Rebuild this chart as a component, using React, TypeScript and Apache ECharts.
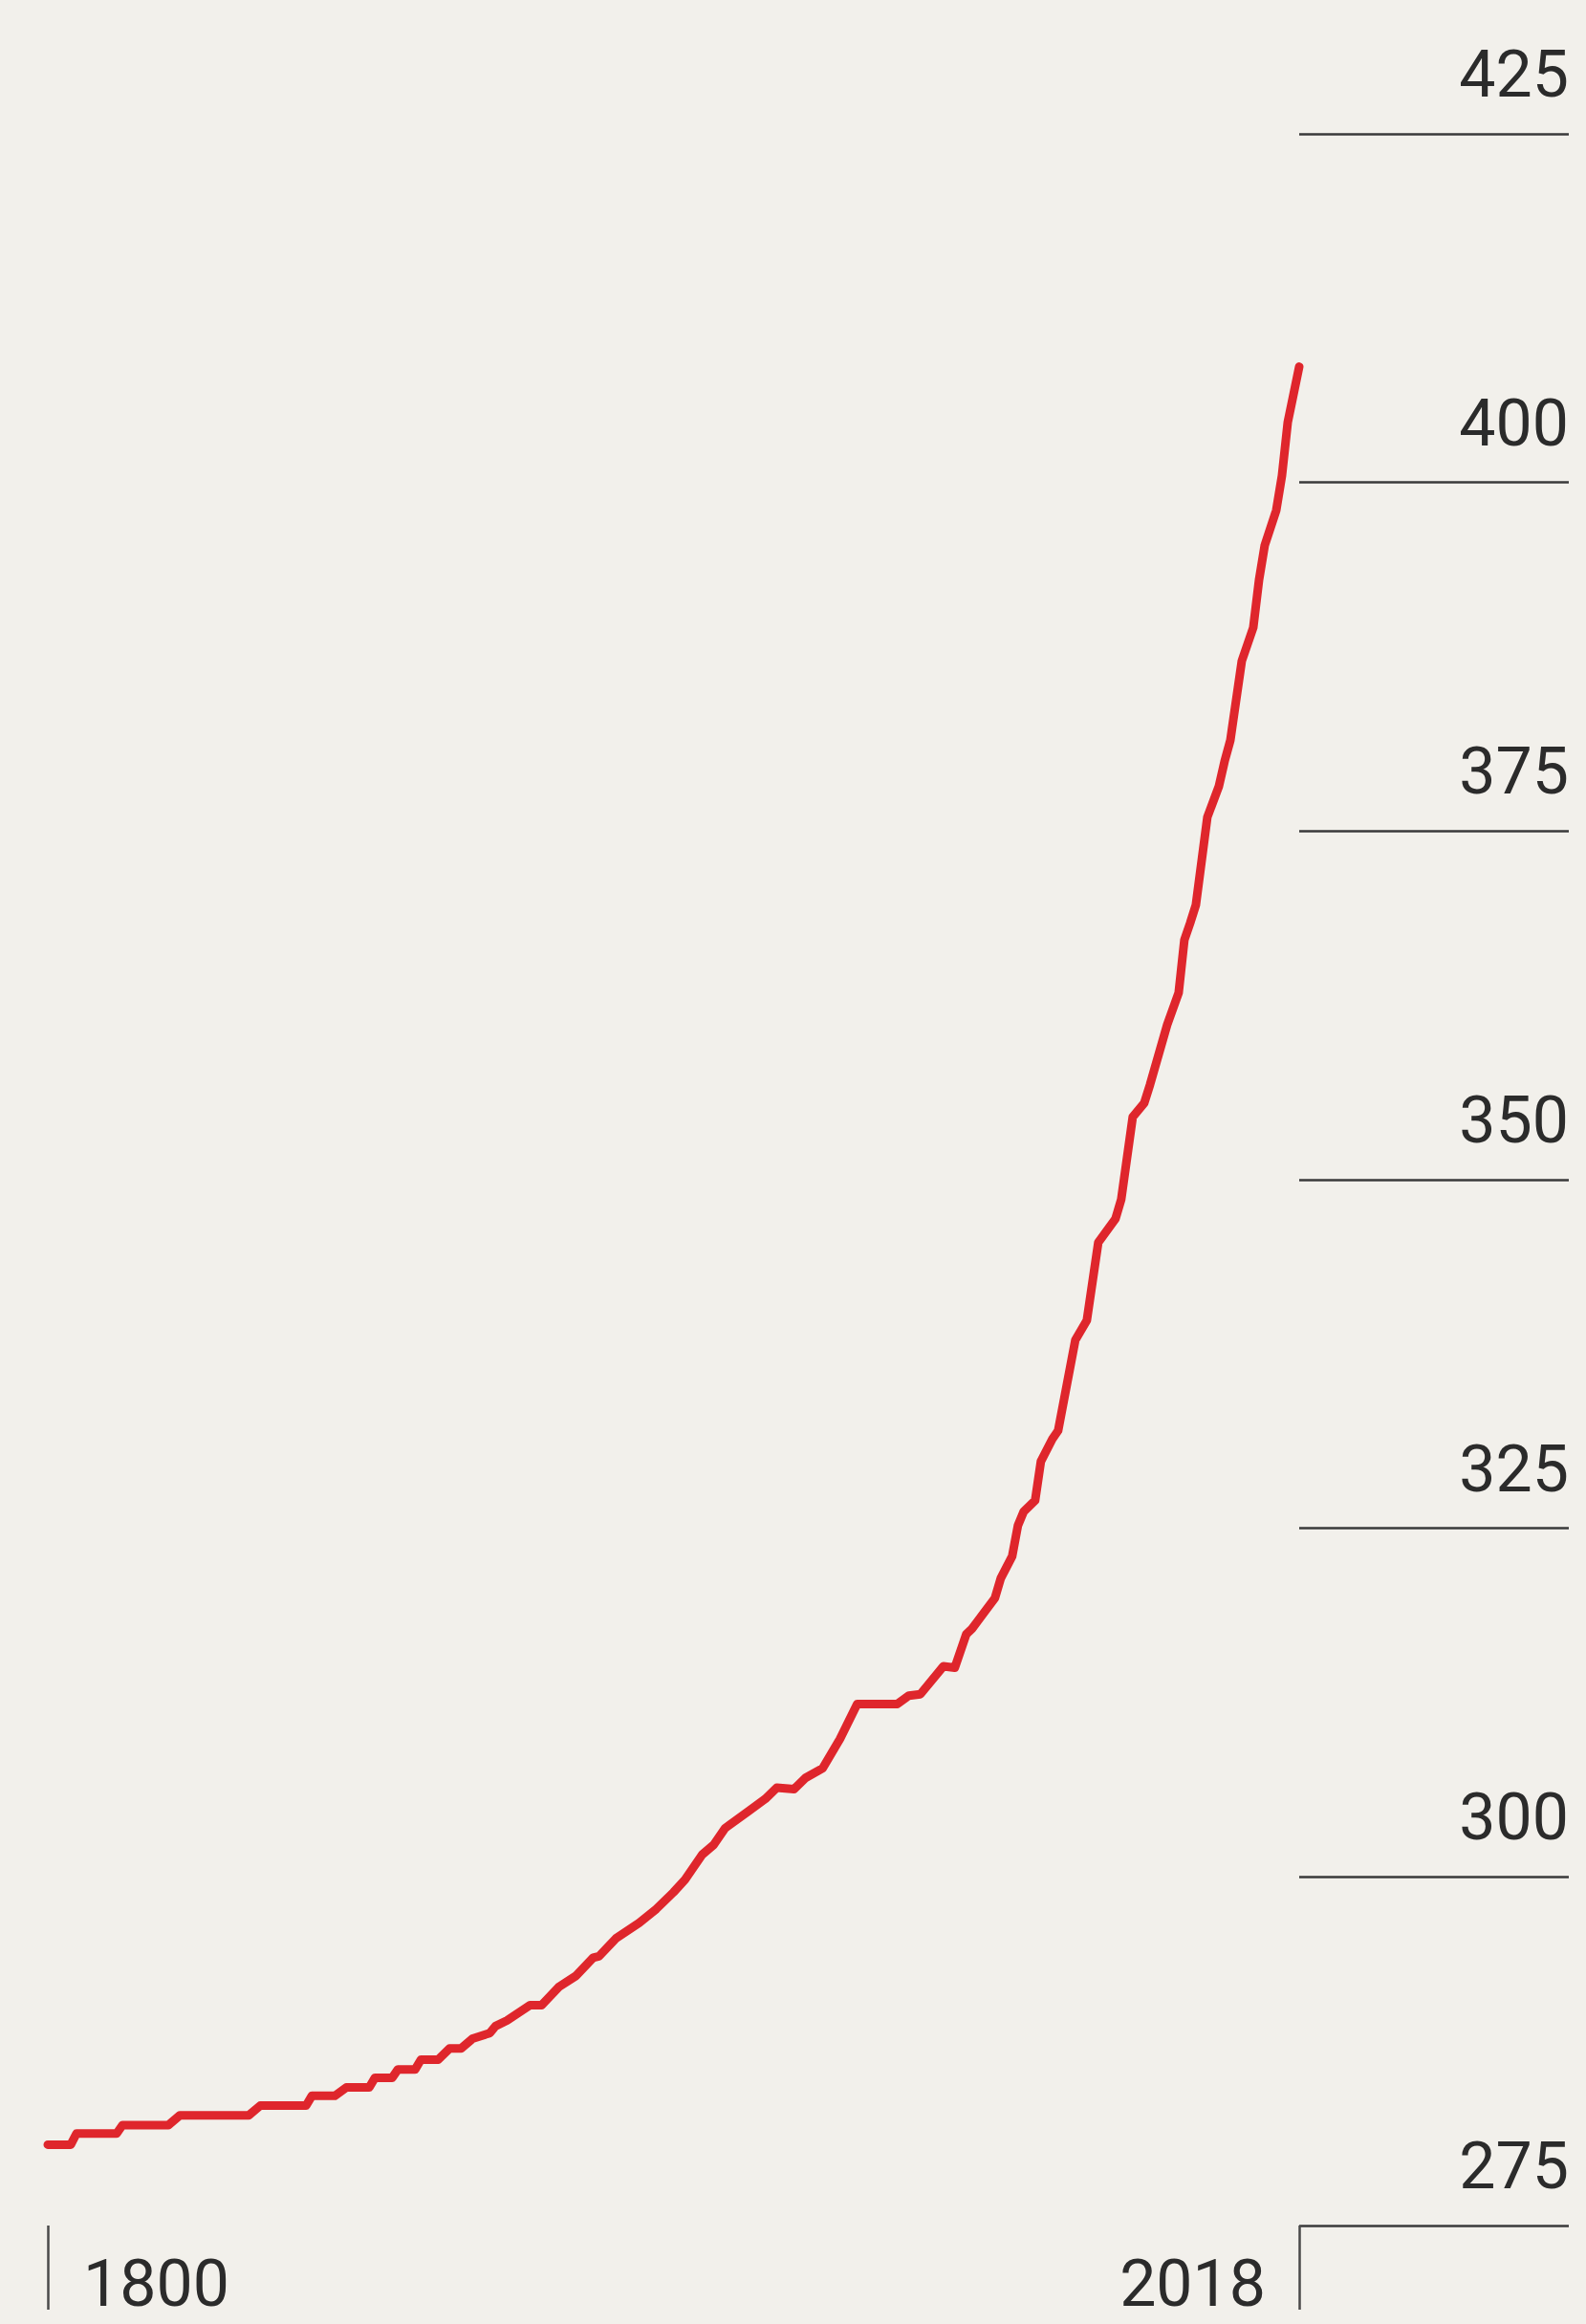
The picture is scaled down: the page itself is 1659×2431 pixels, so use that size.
import React, { useEffect, useRef } from "react";
import * as echarts from "echarts";

// Atmospheric CO2 (ppm)
const years: number[] = [
  1800, 1804, 1805, 1812, 1813, 1821, 1823, 1835, 1837, 1845, 1846, 1850, 1852, 1856,
  1857, 1860, 1861, 1864, 1865, 1868, 1870, 1872, 1874, 1877, 1878, 1880, 1884, 1886,
  1889, 1892, 1895, 1896, 1899, 1903, 1906, 1909, 1911, 1914, 1916, 1918, 1922, 1925,
  1927, 1930, 1932, 1935, 1938, 1941, 1948, 1950, 1952, 1956, 1958, 1960, 1961, 1963,
  1965, 1966, 1968, 1969, 1970, 1972, 1973, 1975, 1976, 1979, 1981, 1983, 1986, 1987,
  1989, 1991, 1992, 1995, 1997, 1998, 1999, 2000, 2002, 2004, 2005, 2006, 2008, 2010,
  2011, 2012, 2014, 2015, 2016, 2018,
];
const co2: number[] = [
  280.8, 280.8, 281.6, 281.6, 282.2, 282.2, 282.9, 282.9, 283.6, 283.6, 284.3, 284.3, 284.9, 284.9,
  285.6, 285.6, 286.2, 286.2, 286.9, 286.9, 287.7, 287.7, 288.4, 288.8, 289.3, 289.7, 290.8, 290.8,
  292.1, 292.9, 294.2, 294.3, 295.6, 296.7, 297.7, 298.9, 299.8, 301.6, 302.3, 303.5, 304.7, 305.6,
  306.4, 306.3, 307.1, 307.8, 309.9, 312.4, 312.4, 313.0, 313.1, 315.1, 315.0, 317.4, 317.8, 318.9,
  320.0, 321.4, 323.0, 325.2, 326.2, 327.0, 329.8, 331.4, 332.0, 338.5, 339.9, 345.5, 347.2, 348.6,
  354.5, 355.5, 356.8, 361.1, 363.4, 367.2, 368.4, 369.7, 376.0, 378.2, 380.0, 381.5, 387.2, 389.6,
  393.0, 395.5, 398.0, 400.5, 404.3, 408.3,
];
const xTickYears: number[] = [1800, 2018];
const yMin = 275;
const yMax = 425;
const yStep = 25;

const BG = "#f2f0eb";
const INK = "#2b2b2b";
const RED = "#df262c";

export default function App() {
  const ref = useRef<HTMLDivElement>(null);

  useEffect(() => {
    if (!ref.current) return;
    const chart = echarts.init(ref.current, undefined, { renderer: "svg" });
    const data = years.map((y, i) => [y, co2[i]]);
    chart.setOption({
      animation: false,
      backgroundColor: BG,
      grid: { left: 50, right: 300, top: 140, bottom: 103, containLabel: false },
      xAxis: {
        type: "value",
        min: 1800,
        max: 2018,
        axisLine: { show: false },
        splitLine: { show: false },
        axisTick: {
          show: true,
          customValues: xTickYears,
          length: 88,
          inside: false,
          lineStyle: { color: "#4a4a4a", width: 2.5 },
        },
        axisLabel: {
          show: true,
          customValues: xTickYears,
          formatter: (v: number) => String(v),
          alignMinLabel: "left",
          alignMaxLabel: "right",
          padding: [0, 35, 0, 37],
          margin: 34,
          lineHeight: 54,
          fontFamily: "Roboto",
          fontSize: 68,
          color: INK,
        },
      },
      yAxis: {
        type: "value",
        position: "right",
        min: yMin,
        max: yMax,
        interval: yStep,
        axisLine: { show: false },
        splitLine: { show: false },
        axisTick: {
          show: true,
          inside: false,
          length: 282,
          lineStyle: { color: "#3a3a3a", width: 2.5 },
        },
        axisLabel: {
          show: true,
          inside: false,
          margin: 282,
          align: "right",
          verticalAlign: "bottom",
          padding: [0, 0, 28, 0],
          formatter: (v: number) => String(v),
          fontFamily: "Roboto",
          fontSize: 68,
          color: INK,
        },
      },
      series: [
        {
          type: "line",
          data,
          showSymbol: false,
          smooth: false,
          lineStyle: { color: RED, width: 9, cap: "round", join: "round" },
        },
      ],
    });
    return () => chart.dispose();
  }, []);

  return (
    <div
      ref={ref}
      style={{
        position: "absolute",
        left: 0,
        top: 0,
        width: 1659,
        height: 2431,
        background: BG,
      }}
    />
  );
}
